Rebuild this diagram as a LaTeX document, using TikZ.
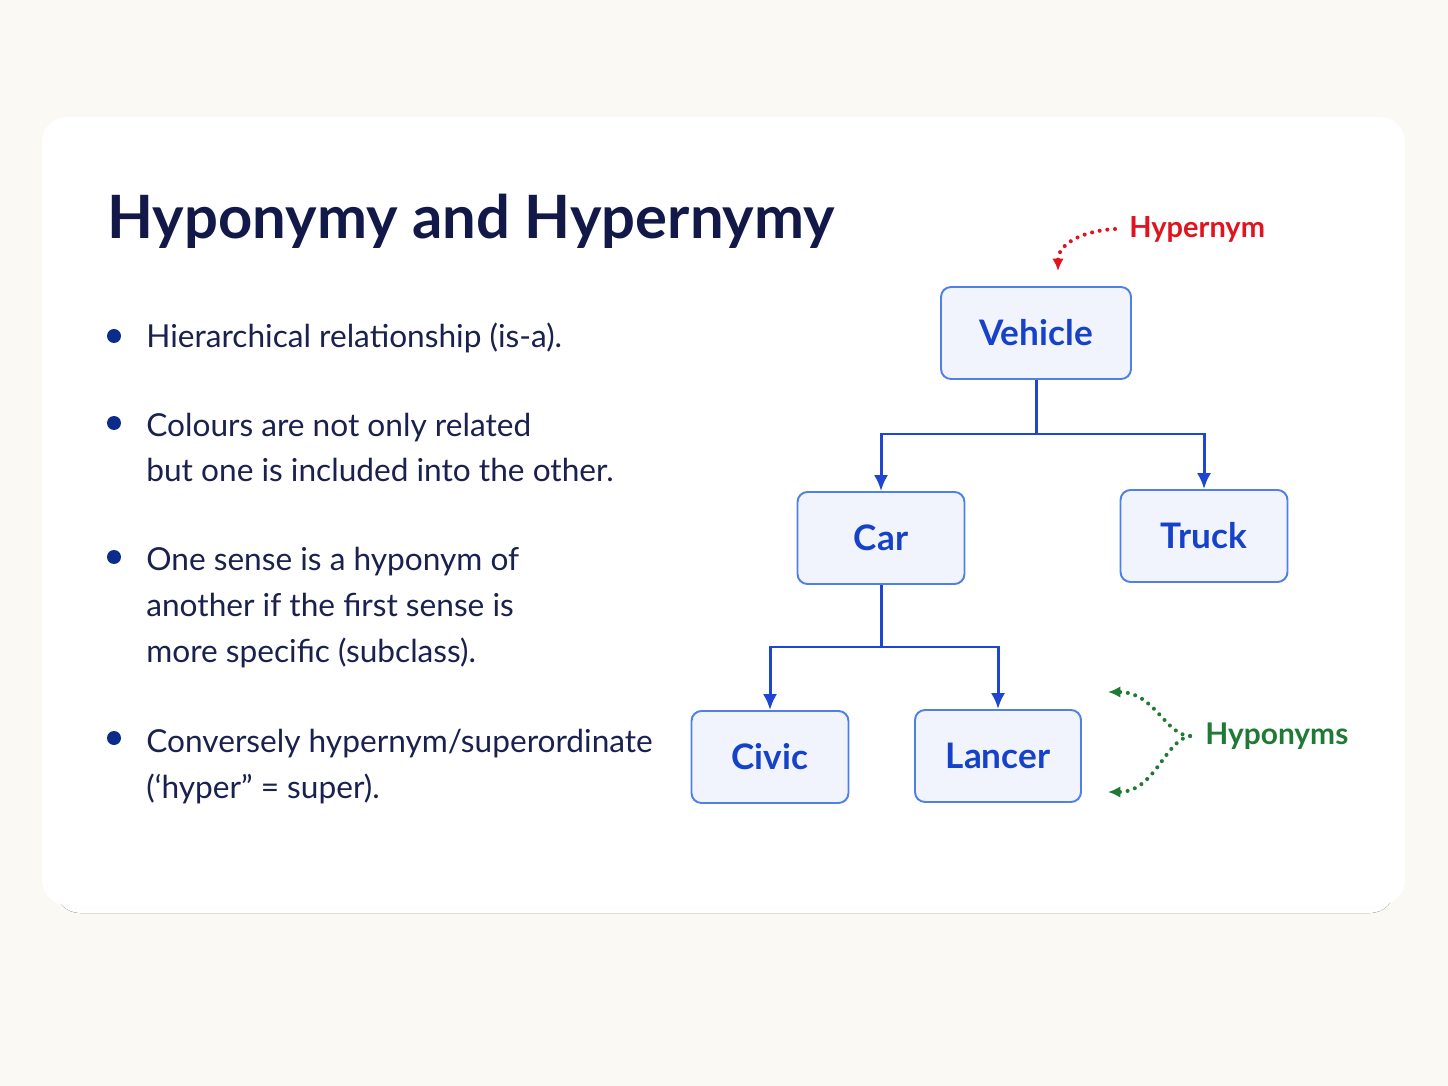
\documentclass[tikz,border=0pt]{standalone}
\usepackage{fontspec}
\setmainfont{Lato}
\usetikzlibrary{arrows.meta,positioning}
\definecolor{paper}{HTML}{FBF9F3}
\definecolor{shade}{HTML}{E4E8F3}
\definecolor{navy}{HTML}{121948}
\definecolor{ink}{HTML}{1A214F}
\definecolor{dotc}{HTML}{0C2C8C}
\definecolor{boxfill}{HTML}{F1F4FD}
\definecolor{boxline}{HTML}{4F80E6}
\definecolor{boxtext}{HTML}{1542C8}
\definecolor{wire}{HTML}{1E46D2}
\definecolor{hyred}{HTML}{E0141E}
\definecolor{hygreen}{HTML}{1E7A34}

\tikzset{
  term/.style={draw=boxline,fill=boxfill,line width=1.1pt,rounded corners=0.2cm,
    minimum height=1.84cm,text=boxtext,
    font=\fontsize{20}{24}\selectfont\bfseries},
  wire/.style={draw=wire,line width=1.7pt,-{Latex[length=9pt,width=8pt]}},
  hint/.style={line width=2.3pt,line cap=round,dash pattern=on 0pt off 4.4pt,
    -{Latex[length=7pt,width=6.5pt]}},
  bullet/.style={circle,fill=dotc,inner sep=0pt,minimum size=0.28cm},
  item/.style={anchor=base west,align=left,inner sep=0pt,text=ink,
    font=\fontsize{18}{26}\selectfont}
}

\begin{document}
\begin{tikzpicture}
\useasboundingbox (0,0) rectangle (28.96,-21.72);
\fill[paper] (0,0) rectangle (28.96,-21.72);

% card with a soft shadow
\fill[shade,rounded corners=0.5cm] (1.1,-2.5) rectangle (27.9,-18.26);
\fill[white,rounded corners=0.5cm] (0.84,-2.34) rectangle (28.10,-18.10);

\node[anchor=base west,inner sep=0pt,text=navy,
  font=\fontsize{34}{40}\selectfont\bfseries] (title) at (2.14,-4.78)
  {Hyponymy and Hypernymy};

% bullet list (base = last line)
\node[bullet] (d1) at (2.28,-6.72) {};
\node[item] (b1) at (2.92,-6.96) {Hierarchical relationship (is-a).};
\node[bullet] (d2) at (2.28,-8.46) {};
\node[item] (b2) at (2.92,-9.64) {Colours are not only related\\but one is included into the other.};
\node[bullet] (d3) at (2.28,-11.14) {};
\node[item] (b3) at (2.92,-13.24) {One sense is a hyponym of\\another if the first sense is\\more specific (subclass).};
\node[bullet] (d4) at (2.28,-14.76) {};
\node[item] (b4) at (2.92,-15.96) {Conversely hypernym/superordinate\\(‘hyper” = super).};

% the tree
\node[term,minimum width=3.8cm] (vehicle) at (20.72,-6.66) {Vehicle};
\node[term,minimum width=3.34cm] (car) at (17.62,-10.76) {Car};
\node[term,minimum width=3.34cm] (truck) at (24.08,-10.72) {Truck};
\node[term,minimum width=3.14cm] (civic) at (15.40,-15.14) {Civic};
\node[term,minimum width=3.32cm] (lancer) at (19.96,-15.12) {Lancer};

\coordinate (vsplit) at (20.72,-8.68);
\coordinate (csplit) at (17.62,-12.94);
\draw[wire,-] (vehicle.south) -- (vsplit);
\draw[wire] (vsplit) -| (car.north);
\draw[wire] (vsplit) -| (truck.north);
\draw[wire,-] (car.south) -- (csplit);
\draw[wire] (csplit) -| (civic.north);
\draw[wire] (csplit) -| (lancer.north);

% side notes
\node[anchor=west,inner sep=0pt,text=hyred,
  font=\fontsize{16.5}{20}\selectfont\bfseries] (hyper) at (22.58,-4.58) {Hypernym};
\coordinate (hyperend) at (21.16,-5.42);
\draw[hint,hyred] (hyper.west) ++(-0.28,0) .. controls (21.6,-4.62) and (21.16,-4.9) .. (hyperend);

\node[anchor=west,inner sep=0pt,text=hygreen,
  font=\fontsize{17}{20}\selectfont\bfseries] (hypo) at (24.1,-14.72) {Hyponyms};
\coordinate (hypoup) at (22.16,-13.84);
\coordinate (hypodown) at (22.16,-15.84);
\draw[hint,hygreen] (hypo.west) ++(-0.3,0) .. controls (23.3,-14.7) and (23.1,-13.84) .. (hypoup);
\draw[hint,hygreen] (hypo.west) ++(-0.3,0) .. controls (23.3,-14.8) and (23.1,-15.84) .. (hypodown);
\end{tikzpicture}
\end{document}
